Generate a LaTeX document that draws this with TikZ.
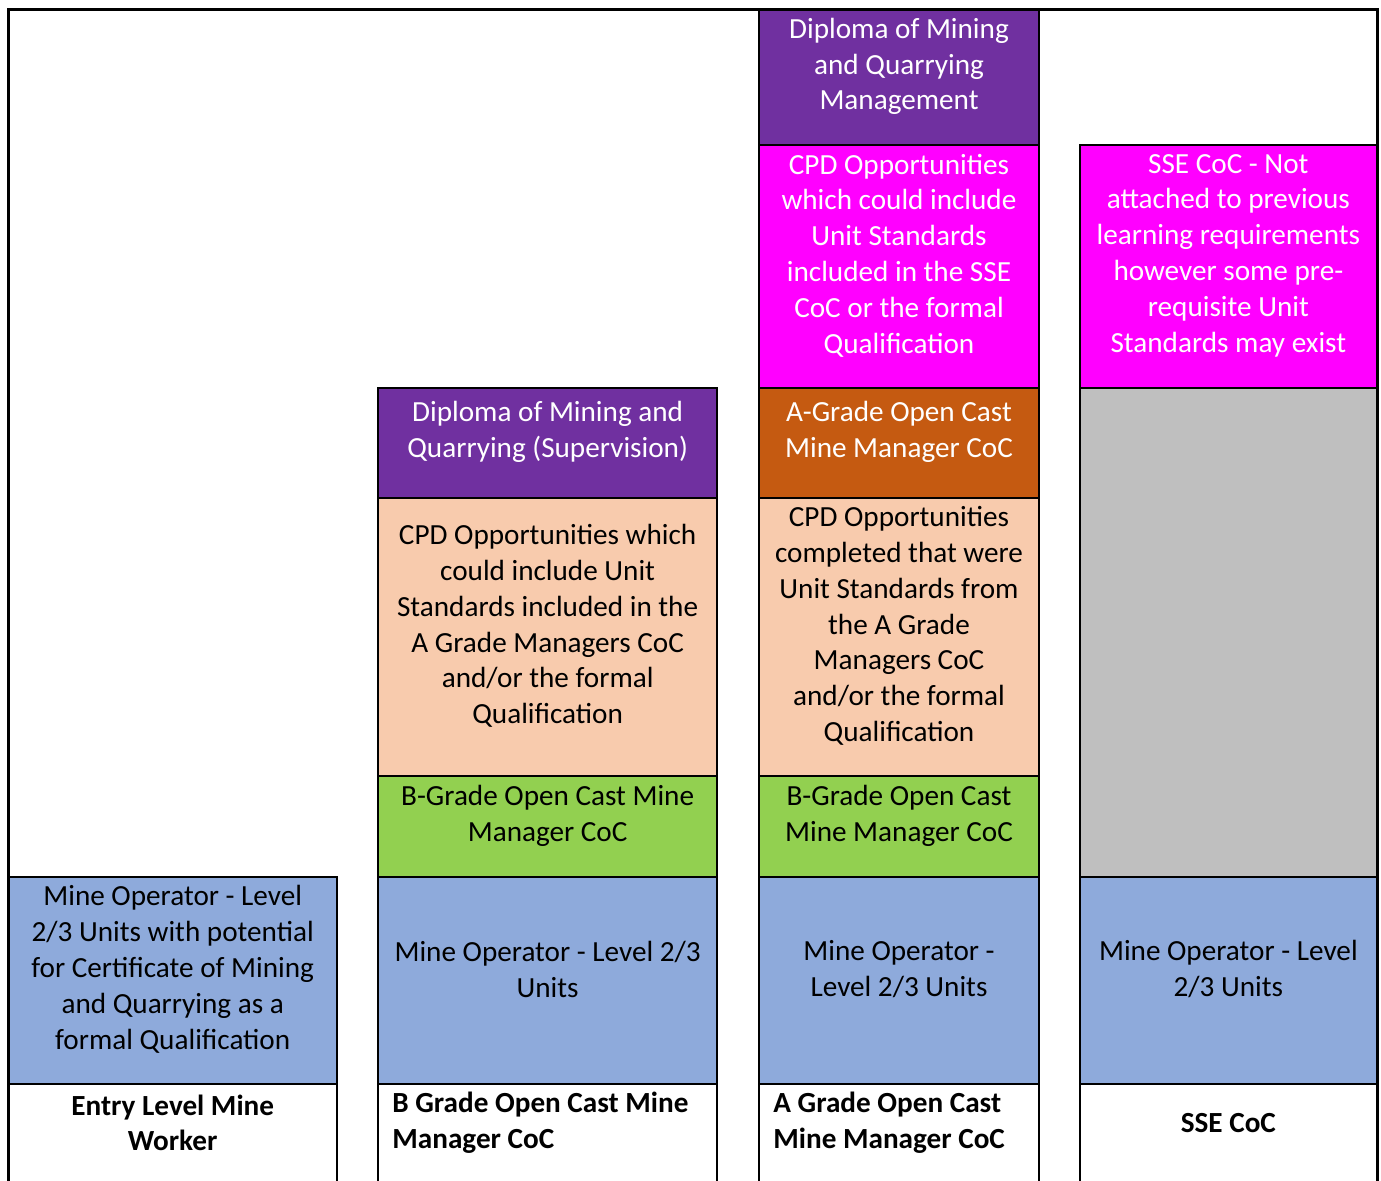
\documentclass[tikz,border=0pt]{standalone}
\usepackage{fontspec}
\setmainfont{Carlito}
\usetikzlibrary{calc}

\definecolor{dipl}{HTML}{7030A0}
\definecolor{cpdpink}{HTML}{FF00FF}
\definecolor{agrade}{HTML}{C55A11}
\definecolor{cpdpeach}{HTML}{F8CBAD}
\definecolor{bgrade}{HTML}{92D050}
\definecolor{operator}{HTML}{8EAADB}
\definecolor{blank}{HTML}{BFBFBF}

\newcommand{\cellfont}{\fontsize{14.6pt}{17.9pt}\selectfont}
% #1 text style, #2-#5 corners, #6 fill, #7 name, #8 text
\newcommand{\tcell}[8][]{%
  \filldraw[fill=#6, gridline] (#2,#3) rectangle (#4,#5);
  \node[celltext, #1] (#7) at ($(#2,#3)!0.5!(#4,#5)$) {#8};}

\begin{document}
\begin{tikzpicture}[x=0.5pt, y=-0.5pt,
  gridline/.style={draw=black, line width=1pt},
  frameline/.style={draw=black, line width=1.5pt},
  celltext/.style={align=center, font=\cellfont, inner sep=0pt, yshift=5.5pt},
  light/.style={text=white},
  caption/.style={font=\cellfont\bfseries, inner sep=0pt}]
\clip (0,0) rectangle (1381,1180);
\fill[white] (0,0) rectangle (1381,1180);

% entry level
\tcell{8.7}{877}{336.7}{1083.7}{operator}{entryop}{Mine Operator - Level\\2/3 Units with potential\\for Certificate of Mining\\and Quarrying as a\\formal Qualification}
\tcell[caption]{8.7}{1083.7}{336.7}{1184}{white}{entrycap}{Entry Level Mine\\Worker}

% B grade
\tcell[light]{378.3}{387.7}{717}{497.7}{dipl}{bdipl}{Diploma of Mining and\\Quarrying (Supervision)}
\tcell{378.3}{497.7}{717}{776.3}{cpdpeach}{bcpd}{CPD Opportunities which\\could include Unit\\Standards included in the\\A Grade Managers CoC\\and/or the formal\\Qualification}
\tcell{378.3}{776.3}{717}{877}{bgrade}{bcoc}{B-Grade Open Cast Mine\\Manager CoC}
\tcell{378.3}{877}{717}{1083.7}{operator}{bop}{Mine Operator - Level 2/3\\Units}
\filldraw[fill=white, gridline] (378.3,1083.7) rectangle (717,1184);
\node[caption, align=left, anchor=west, yshift=5pt] (bcap) at (392,1133) {B Grade Open Cast Mine\\Manager CoC};

% A grade
\tcell[light]{759.3}{9.7}{1038.7}{145.3}{dipl}{adipl}{Diploma of Mining\\and Quarrying\\Management}
\tcell[light]{759.3}{145.3}{1038.7}{387.7}{cpdpink}{acpd}{CPD Opportunities\\which could include\\Unit Standards\\included in the SSE\\CoC or the formal\\Qualification}
\tcell[light]{759.3}{387.7}{1038.7}{497.7}{agrade}{acoc}{A-Grade Open Cast\\Mine Manager CoC}
\tcell{759.3}{497.7}{1038.7}{776.3}{cpdpeach}{adone}{CPD Opportunities\\completed that were\\Unit Standards from\\the A Grade\\Managers CoC\\and/or the formal\\Qualification}
\tcell{759.3}{776.3}{1038.7}{877}{bgrade}{abcoc}{B-Grade Open Cast\\Mine Manager CoC}
\tcell{759.3}{877}{1038.7}{1083.7}{operator}{aop}{Mine Operator -\\Level 2/3 Units}
\filldraw[fill=white, gridline] (759.3,1083.7) rectangle (1038.7,1184);
\node[caption, align=left, anchor=west, yshift=5pt] (acap) at (773,1133) {A Grade Open Cast\\Mine Manager CoC};

% SSE
\tcell[light]{1079.7}{145.3}{1377}{387.7}{cpdpink}{ssenote}{SSE CoC - Not\\attached to previous\\learning requirements\\however some pre-\\requisite Unit\\Standards may exist}
\filldraw[fill=blank, gridline] (1079.7,387.7) rectangle (1377,877);
\tcell{1079.7}{877}{1377}{1083.7}{operator}{sseop}{Mine Operator - Level\\2/3 Units}
\tcell[caption]{1079.7}{1083.7}{1377}{1184}{white}{ssecap}{SSE CoC}

% outer frame
\draw[frameline] (8.7,1190) -- (8.7,9.7) -- (1377.5,9.7) -- (1377.5,1190);
\end{tikzpicture}
\end{document}
